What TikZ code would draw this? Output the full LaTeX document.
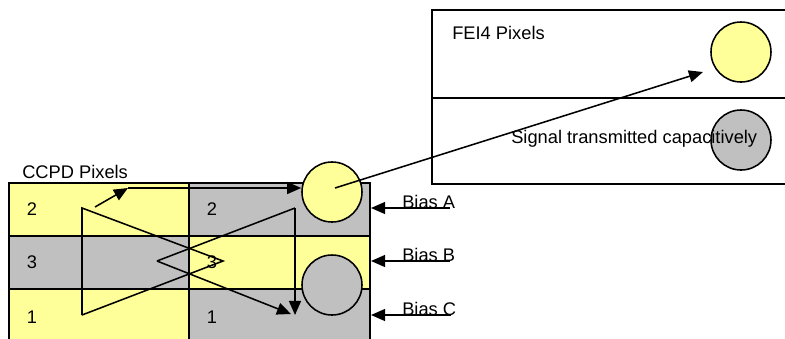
\documentclass[tikz,border=0pt]{standalone}
\usepackage{fontspec}
\setmainfont{Liberation Sans}
\usepackage{xcolor}
\usepackage{tikz}
\usetikzlibrary{arrows.meta,positioning}
\definecolor{PADY}{HTML}{FFFF99}
\definecolor{PADG}{HTML}{C0C0C0}

\begin{document}
\begin{tikzpicture}[
    x=0.025cm, y=-0.025cm,
    font=\fontsize{13}{15}\selectfont,
    cell/.style={draw=black, line width=1.4pt, minimum height=1.325cm, anchor=north west, inner sep=0pt},
    lcell/.style={cell, minimum width=4.5cm},
    rcell/.style={cell, minimum width=4.525cm},
    num/.style={inner sep=0pt},
    pad/.style={circle, draw=black, line width=1.1pt, minimum size=1.5cm, inner sep=0pt},
    ln/.style={line width=1.1pt},
    arr/.style={-{Triangle[length=10pt,width=8.5pt]}, line width=1.1pt},
    lab/.style={inner sep=0pt},
  ]
  \useasboundingbox (0,0) rectangle (785,338);

  % ===== CCPD pixel matrix =====
  \node[lab, anchor=west] (ccpd) at (22,172) {CCPD Pixels};
  \node[lcell, fill=PADY] (c11) at (8,182) {};
  \node[rcell, fill=PADG] (c12) at (188,182) {};
  \node[lcell, fill=PADG] (c21) at (8,235) {};
  \node[rcell, fill=PADY] (c22) at (188,235) {};
  \node[lcell, fill=PADY] (c31) at (8,288) {};
  \node[rcell, fill=PADG] (c32) at (188,288) {};
  % numbers
  \foreach \r/\y/\t in {1/209/2, 2/262/3, 3/317/1} {
    \node[num] (n\r1) at (32,\y) {\t};
    \node[num] (n\r2) at (212,\y) {\t};
  }

  % CCPD pads
  \node[pad, fill=PADY] (ccpdA) at (332,192) {};
  \node[pad, fill=PADG] (ccpdB) at (332,285) {};

  % ===== FEI4 pixels =====
  \node[draw=black, line width=1.2pt, anchor=north west, minimum width=9cm, minimum height=2.2cm] (feiTop) at (431,9) {};
  \node[draw=black, line width=1.2pt, anchor=north west, minimum width=9cm, minimum height=2.15cm] (feiBot) at (431,97) {};
  \node[lab, anchor=west] (fei) at (452,33) {FEI4 Pixels};
  \node[pad, fill=PADY] (feiA) at (741,52) {};
  \node[pad, fill=PADG] (feiB) at (741,140) {};
  \node[lab, anchor=west] (signal) at (511,139) {Signal transmitted capacitively};

  % ===== signal routing =====
  \coordinate (s0) at (95,207);
  \coordinate (s1) at (128,188);
  \draw[arr] (s0) -- (s1);
  \draw[arr] (s1) -- (s1 -| ccpdA.west);

  \coordinate (p1) at (82,208);
  \coordinate (p2) at (82,315);
  \coordinate (p3) at (223,261);
  \coordinate (q1) at (295,208);
  \coordinate (q2) at (295,315);
  \coordinate (q3) at (157,261);
  \coordinate (q4) at (291,314);
  \draw[ln] (p2) -- (p1) -- (p3) -- (p2);
  \draw[ln] (q3) -- (q1);
  \draw[arr] (q1) -- (q2);
  \draw[arr] (q3) -- (q4);

  % capacitive coupling
  \coordinate (feiIn) at (703,72);
  \draw[arr] ([shift={(3,-4)}]ccpdA.center) -- (feiIn);

  % ===== bias lines =====
  \node[lab, anchor=base west] (ba) at (402,208) {Bias A};
  \node[lab, anchor=base west] (bb) at (402,261) {Bias B};
  \node[lab, anchor=base west] (bc) at (402,315) {Bias C};
  \foreach \b in {ba,bb,bc}
    \draw[arr] ([xshift=-4pt]\b.base east) -- (\b.base east -| c12.east);

\end{tikzpicture}
\end{document}
